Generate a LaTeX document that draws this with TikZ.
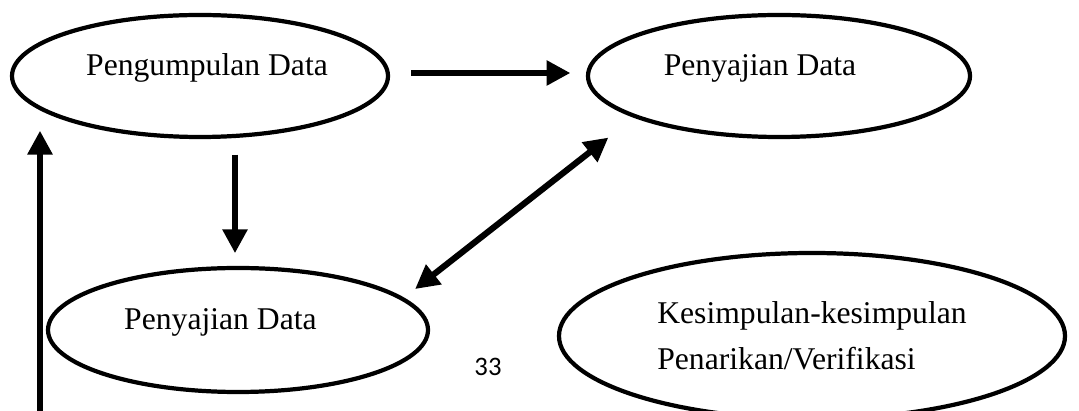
\documentclass[tikz,border=0pt]{standalone}
\usepackage{fontspec}
\setmainfont{Liberation Serif}
\newfontfamily\pagefont{Carlito}
\usepackage{tikz}
\usetikzlibrary{arrows.meta,shapes,calc}

\begin{document}
\begin{tikzpicture}[x=0.025cm,y=-0.025cm]
    \tikzset{stage/.style = {shape=ellipse,draw,line width=3pt,inner sep=0pt,
                             font=\fontsize{22.5}{33}\selectfont}}
    \tikzset{oneline/.style = {text height=15pt,text depth=15pt}}
    \tikzset{flow/.style = {line width=4.4pt,-{Triangle[length=17pt,width=17pt]}}}
    \tikzset{both/.style = {line width=4.4pt,{Triangle[length=17pt,width=17pt]}-{Triangle[length=17pt,width=17pt]}}}
    \useasboundingbox (0,0) rectangle (1079,411);

    % stages
    \node[stage,oneline,minimum width=376*0.025cm,minimum height=122*0.025cm] (collect) at (200,76)
      {\hspace*{10pt}Pengumpulan Data};
    \node[stage,oneline,minimum width=382*0.025cm,minimum height=122*0.025cm] (display1) at (779,76)
      {Penyajian Data\hspace*{27pt}};
    \node[stage,oneline,minimum width=380*0.025cm,minimum height=124*0.025cm] (display2) at (238,330)
      {Penyajian Data\hspace*{25pt}};
    \node[stage,minimum width=506*0.025cm,minimum height=166*0.025cm,align=left] (conclude) at (812,336)
      {Kesimpulan-kesimpulan\\Penarikan/Verifikasi};
    \node[font=\pagefont\fontsize{19}{19}\selectfont] (page) at (488,367) {33};
    \coordinate (start) at (40,411);

    % arrows
    \draw[flow,shorten <=15pt,shorten >=11pt] (collect.east |- 0,73) -- (display1.west |- 0,73);
    \draw[flow] ([yshift=-11pt]collect.south -| 235,0) -- ([yshift=9pt]display2.north -| 235,0);
    \draw[both,shorten <=10pt,shorten >=23pt] (display2.11.5) -- (display1.196.4);
    \draw[flow] (start) -- ([yshift=6pt]start |- collect.south);

  \end{tikzpicture}
\end{document}
